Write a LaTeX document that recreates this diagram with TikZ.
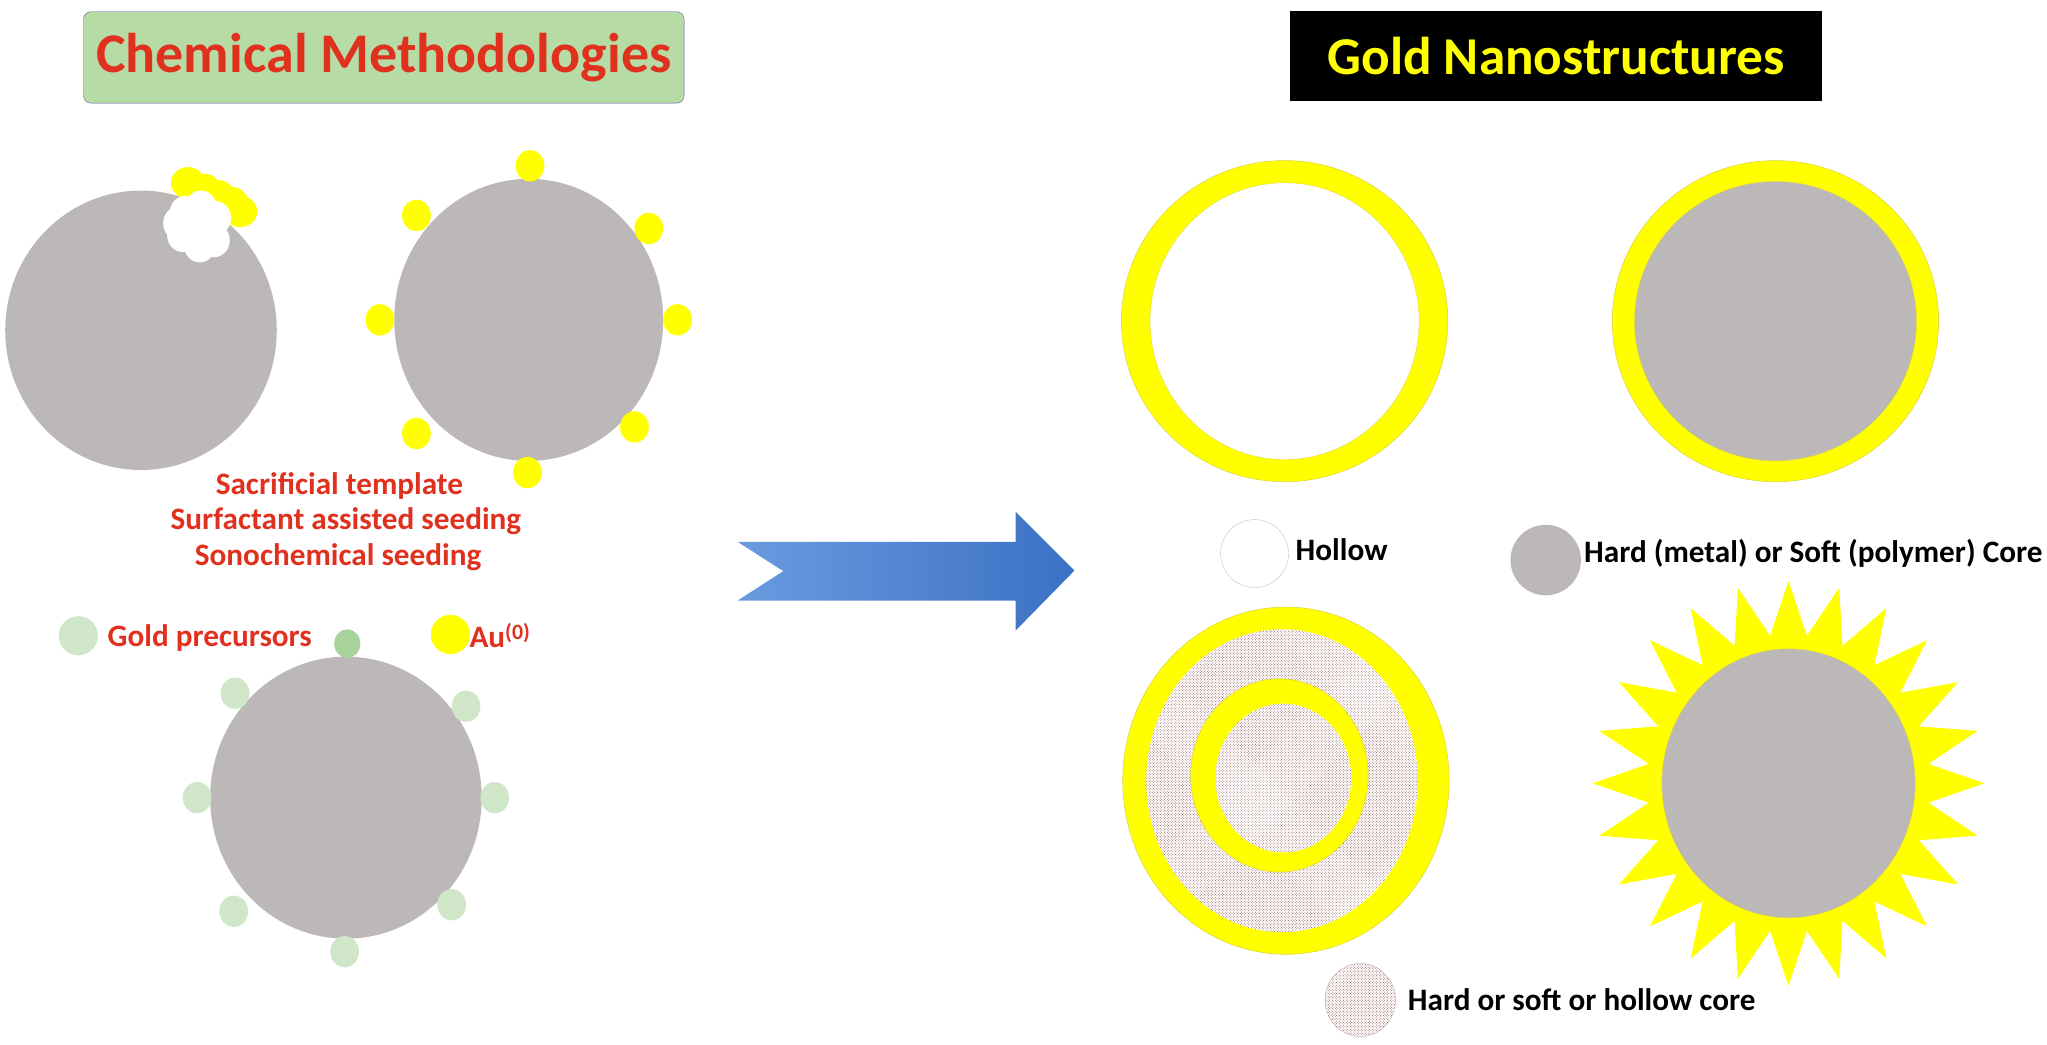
\documentclass[tikz,border=0pt]{standalone}
\usepackage{fontspec}
\setmainfont{Carlito}
\usetikzlibrary{patterns,shapes.geometric}
\definecolor{gr}{HTML}{BBB8B7}
\definecolor{yl}{HTML}{FFFF00}
\definecolor{rd}{HTML}{E0301E}
\definecolor{lg}{HTML}{CFE7C8}
\definecolor{dg}{HTML}{A8D39A}
\definecolor{tg}{HTML}{B7DBA4}
\definecolor{bl1}{HTML}{6A9BE0}
\definecolor{bl2}{HTML}{3B71C4}
\definecolor{dotc}{HTML}{7A3030}
\tikzset{
 core/.style={fill=gr,draw=none},
 ydot/.style={fill=yl,draw=none},
 gdot/.style={fill=lg,draw=none},
 shell/.style={fill=yl,draw=yellow!70!gray,line width=0.6pt},
 dotted core/.style={fill=white,postaction={pattern=crosshatch dots,pattern color=dotc!80}},
 redtxt/.style={text=rd,font=\fontsize{34}{38}\selectfont\bfseries},
 blktxt/.style={text=black,font=\fontsize{34}{38}\selectfont\bfseries,anchor=west},
}
\begin{document}
\begin{tikzpicture}[x=0.5mm,y=-0.5mm]
\useasboundingbox (0,0) rectangle (1568,800);
% titles
\node[fill=tg,draw=gray!70!blue,rounded corners=8pt,minimum width=460*0.5mm,minimum height=70*0.5mm,text=rd,font=\fontsize{61}{66}\selectfont\bfseries] (t1) at (294,44) {Chemical Methodologies};
\node[fill=black,minimum width=408*0.5mm,minimum height=69*0.5mm,text=yl,font=\fontsize{58}{62}\selectfont\bfseries] (t2) at (1192,43) {Gold Nanostructures};
% circle A
\fill[core] (108,253) ellipse (104 and 107);
\foreach \p in {(144,140),(156,145),(167,150),(177,155),(184,162),(150,150),(172,160)} \fill[ydot] \p ellipse (13 and 12);
\foreach \p in {(142,163),(154,159),(165,167),(140,180),(153,188),(164,184),(137,171),(150,172)} \fill[white] \p ellipse (12 and 13);
% circle B
\fill[core] (405,245) ellipse (103 and 108);
\foreach \p in {(406,127),(319,165),(497,175),(291,245),(519,245),(319,332),(486,327),(404,362)} \fill[ydot] \p ellipse (11 and 12);
\node[redtxt] (l1) at (260,372) {Sacrificial template};
\node[redtxt] (l2) at (265,399) {Surfactant assisted seeding};
\node[redtxt] (l3) at (259,427) {Sonochemical seeding};
% legend
\fill[gdot] (60,487) circle (15);
\node[redtxt,anchor=west] (gp) at (80,489) {Gold precursors};
\fill[ydot] (345,486) circle (15);
\node[redtxt,anchor=west] (au) at (353,487) {\hspace{6pt}Au\textsuperscript{(0)}};
% circle C
\fill[core] (265,611) ellipse (104 and 108);
\fill[dg] (266,493) ellipse (10 and 11);
\foreach \p in {(180,531),(357,541),(151,611),(379,611),(179,698),(346,693),(264,729)} \fill[gdot] \p ellipse (11 and 12);
% arrow
\shade[left color=bl1,right color=bl2] (565,415) -- (778,415) -- (778,392) -- (823,437) -- (778,483) -- (778,460) -- (565,460) -- (600,437.5) -- cycle;
% hollow
\fill[shell] (984,246) ellipse (125 and 123);
\fill[white,draw=yellow!70!gray] (984,246) ellipse (103 and 106);
% core shell
\fill[shell] (1360,246) ellipse (125 and 123);
\fill[core,draw=yellow!70!gray] (1360,246) ellipse (108 and 107);
% legends
\draw[gray!50,fill=white] (961,424) circle (26);
\node[blktxt] (ho) at (990,421) {Hollow};
\fill[core] (1184,429) circle (27);
\node[blktxt] (hc) at (1211,424) {Hard (metal) or Soft (polymer) Core};
% multilayer
\fill[shell] (985,598) ellipse (125 and 133);
\path[dotted core] (982,598) ellipse (104 and 116);
\fill[shell] (980,594) ellipse (68 and 74);
\path[dotted core] (983,596) ellipse (52 and 57);
% star
\fill[yl] \foreach \i in {0,...,23} {
  \ifnum\i=0 ({1370+150*cos(90+15*\i)},{600-155*sin(90+15*\i)}) \else -- ({1370+150*cos(90+15*\i)},{600-155*sin(90+15*\i)}) \fi
  -- ({1370+108*cos(97.5+15*\i)},{600-114*sin(97.5+15*\i)}) } -- cycle;
\fill[core,draw=yellow!70!gray] (1370,600) ellipse (97 and 103);
% legend dotted
\path[dotted core,draw=gray!60] (1042,766) ellipse (27 and 28);
\node[blktxt] (hs) at (1076,766) {Hard or soft or hollow core};
\end{tikzpicture}
\end{document}
